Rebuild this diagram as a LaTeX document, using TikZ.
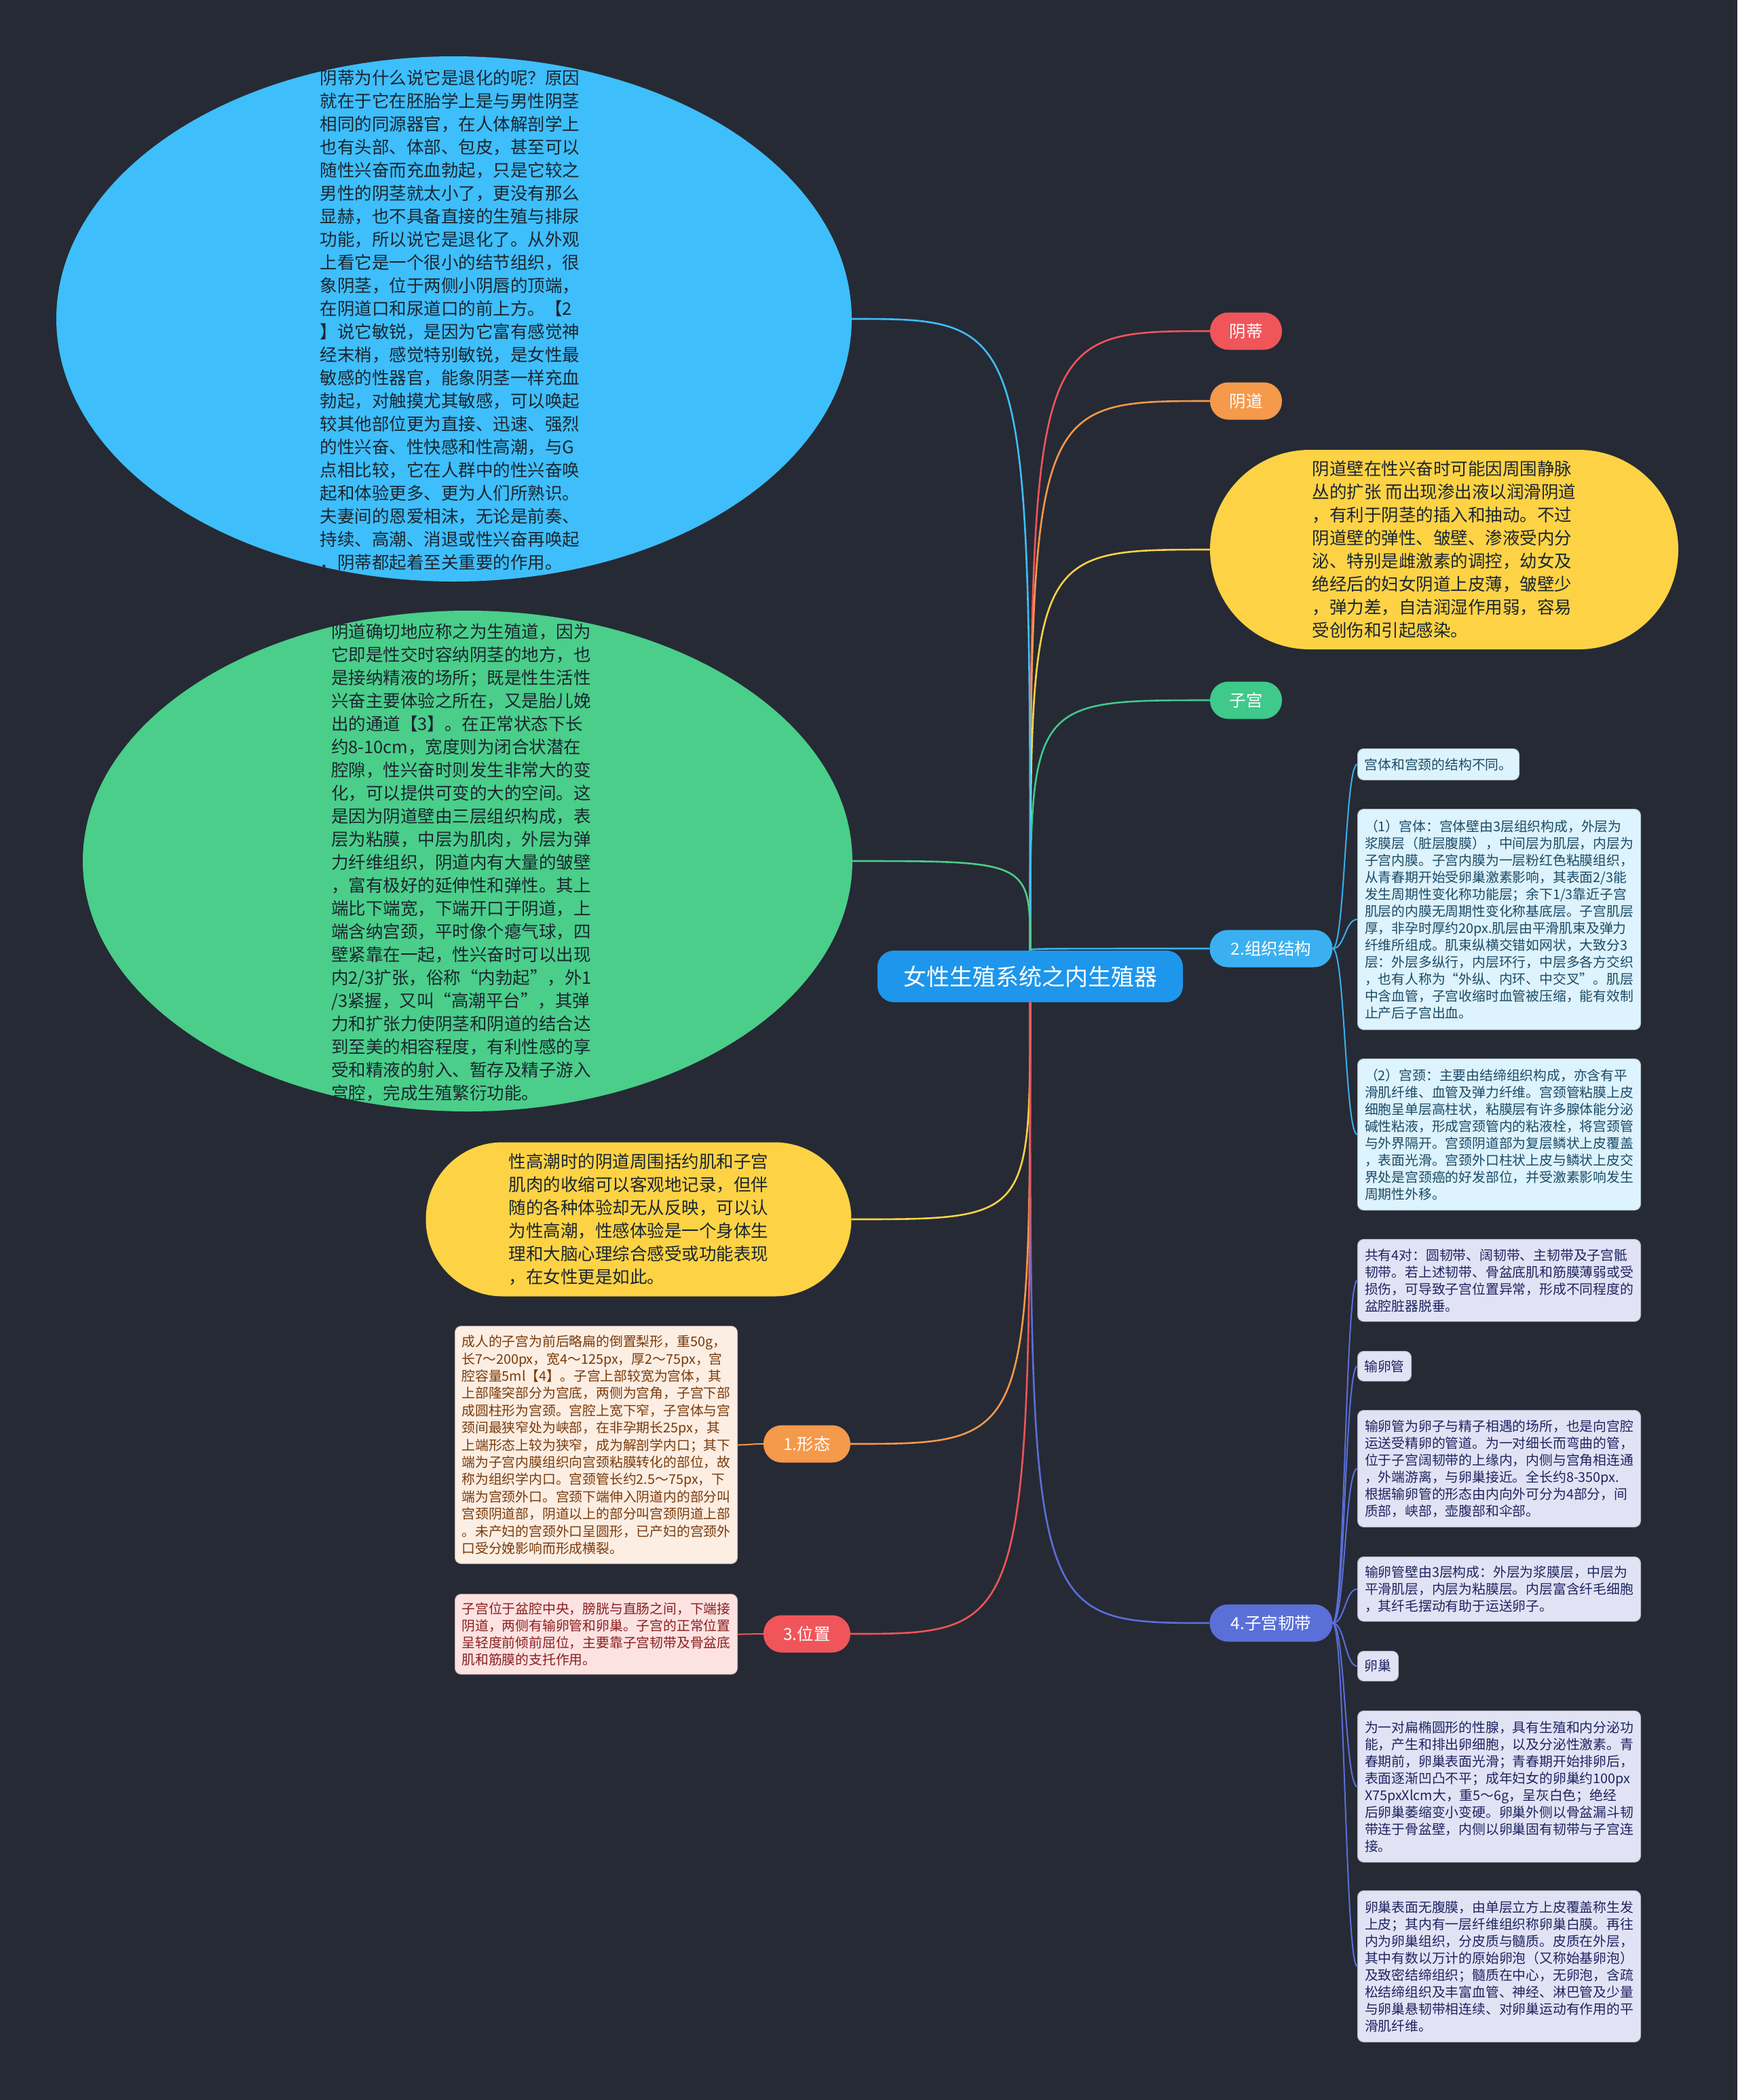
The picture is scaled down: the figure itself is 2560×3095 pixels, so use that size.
\documentclass[tikz,border=0pt]{standalone}
\usepackage{fontspec}
\setmainfont{Noto Sans CJK SC}
\usetikzlibrary{shapes.geometric}
\definecolor{bg}{HTML}{262A35}
\definecolor{cCenter}{HTML}{1E96EB}
\definecolor{cEBlue}{HTML}{3EBEFA}
\definecolor{cEGreen}{HTML}{4ACE8A}
\definecolor{cYellow}{HTML}{FDD345}
\definecolor{cRed}{HTML}{F0555A}
\definecolor{cOrange}{HTML}{F5994A}
\definecolor{cGreen}{HTML}{3FC98A}
\definecolor{cBlue}{HTML}{3BB0F0}
\definecolor{cPurple}{HTML}{5A6FD8}
\definecolor{tDark}{HTML}{1C2530}
\definecolor{fBlue}{HTML}{DDF3FD}
\definecolor{tBlue}{HTML}{1B4A66}
\definecolor{fLav}{HTML}{E1E3F5}
\definecolor{tLav}{HTML}{1E2460}
\definecolor{fPeach}{HTML}{FDEEE3}
\definecolor{tPeach}{HTML}{7A3A0A}
\definecolor{fPink}{HTML}{FDE2E2}
\definecolor{tPink}{HTML}{8A1F1F}
\newcommand{\fbig}{\fontsize{25.5pt}{34pt}\selectfont}
\newcommand{\fsmall}{\fontsize{19.8pt}{25pt}\selectfont}
\newcommand{\fsmallb}{\fontsize{19.8pt}{25.4pt}\selectfont}
\newcommand{\fpill}{\fontsize{24.5pt}{30pt}\selectfont}
\newcommand{\fcenter}{\fontsize{34pt}{40pt}\selectfont}
\begin{document}
\begin{tikzpicture}[x=1pt,y=-1pt,
  bigtxt/.style={align=left, font=\fbig, inner sep=0pt, text=tDark},
  pill/.style={rounded corners=27pt, minimum height=55pt, inner sep=0pt, font=\fpill, text=white},
  smallbox/.style={rounded corners=9pt, align=left, anchor=north west, inner sep=0pt, font=\fsmall, line width=1pt},
  conn/.style={line width=2.6pt},
  sub/.style={line width=2pt}]
\fill[bg] (0,0) rectangle (2560,3095);
\useasboundingbox (0,0) rectangle (2560,3095);

% ---------- central node
\node[fill=cCenter, rounded corners=24pt, minimum width=450pt, minimum height=76pt, inner sep=0pt, font=\fcenter, text=white] (c) at (1518,1439) {女性生殖系统之内生殖器};

% ---------- left big shapes
\node[ellipse, fill=cEBlue, minimum width=1172pt, minimum height=774pt, inner sep=0pt] (e1) at (669,470) {};
\node[bigtxt] (e1t) at (663,472) {阴蒂为什么说它是退化的呢？原因\\
就在于它在胚胎学上是与男性阴茎\\
相同的同源器官，在人体解剖学上\\
也有头部、体部、包皮，甚至可以\\
随性兴奋而充血勃起，只是它较之\\
男性的阴茎就太小了，更没有那么\\
显赫，也不具备直接的生殖与排尿\\
功能，所以说它是退化了。从外观\\
上看它是一个很小的结节组织，很\\
象阴茎，位于两侧小阴唇的顶端，\\
在阴道口和尿道口的前上方。【2\\
】说它敏锐，是因为它富有感觉神\\
经末梢，感觉特别敏锐，是女性最\\
敏感的性器官，能象阴茎一样充血\\
勃起，对触摸尤其敏感，可以唤起\\
较其他部位更为直接、迅速、强烈\\
的性兴奋、性快感和性高潮，与G\\
点相比较，它在人群中的性兴奋唤\\
起和体验更多、更为人们所熟识。\\
夫妻间的恩爱相沫，无论是前奏、\\
持续、高潮、消退或性兴奋再唤起\\
，阴蒂都起着至关重要的作用。};

\node[ellipse, fill=cEGreen, minimum width=1134pt, minimum height=738pt, inner sep=0pt] (e2) at (689,1269) {};
\node[bigtxt] (e2t) at (680,1271) {阴道确切地应称之为生殖道，因为\\
它即是性交时容纳阴茎的地方，也\\
是接纳精液的场所；既是性生活性\\
兴奋主要体验之所在，又是胎儿娩\\
出的通道【3】。在正常状态下长\\
约8-10cm，宽度则为闭合状潜在\\
腔隙，性兴奋时则发生非常大的变\\
化，可以提供可变的大的空间。这\\
是因为阴道壁由三层组织构成，表\\
层为粘膜，中层为肌肉，外层为弹\\
力纤维组织，阴道内有大量的皱壁\\
，富有极好的延伸性和弹性。其上\\
端比下端宽，下端开口于阴道，上\\
端含纳宫颈，平时像个瘪气球，四\\
壁紧靠在一起，性兴奋时可以出现\\
内2/3扩张，俗称“内勃起”，外1\\
/3紧握，又叫“高潮平台”，其弹\\
力和扩张力使阴茎和阴道的结合达\\
到至美的相容程度，有利性感的享\\
受和精液的射入、暂存及精子游入\\
宫腔，完成生殖繁衍功能。};

\node[bigtxt, fill=cYellow, rounded corners=113pt, minimum width=627pt, minimum height=227pt] (y2) at (941,1797) {性高潮时的阴道周围括约肌和子宫\\
肌肉的收缩可以客观地记录，但伴\\
随的各种体验却无从反映，可以认\\
为性高潮，性感体验是一个身体生\\
理和大脑心理综合感受或功能表现\\
，在女性更是如此。};

% ---------- right branch nodes
\node[pill, fill=cRed, minimum width=106pt] (b1) at (1836,488) {阴蒂};
\node[pill, fill=cOrange, minimum width=106pt] (b2) at (1836,591) {阴道};
\node[bigtxt, fill=cYellow, rounded corners=147pt, minimum width=690pt, minimum height=294pt] (y1) at (2128,810) {阴道壁在性兴奋时可能因周围静脉\\
丛的扩张 而出现渗出液以润滑阴道\\
，有利于阴茎的插入和抽动。不过\\
阴道壁的弹性、皱壁、渗液受内分\\
泌、特别是雌激素的调控，幼女及\\
绝经后的妇女阴道上皮薄，皱壁少\\
，弹力差，自洁润湿作用弱，容易\\
受创伤和引起感染。};
\node[pill, fill=cGreen, minimum width=106pt] (b3) at (1836,1032) {子宫};
\node[pill, fill=cBlue, minimum width=181pt] (b4) at (1873,1398) {2.组织结构};
\node[pill, fill=cPurple, minimum width=181pt] (b5) at (1873,2392) {4.子宫韧带};

% ---------- left branch nodes
\node[pill, fill=cOrange, minimum width=128pt] (b6) at (1189,2128) {1.形态};
\node[pill, fill=cRed, minimum width=128pt] (b7) at (1189,2408) {3.位置};

% ---------- children of 2.组织结构
\node[smallbox, fill=fBlue, draw=fBlue!80!black, text=tBlue, minimum width=238pt, minimum height=46pt] (k1) at (2000,1103) {宫体和宫颈的结构不同。};
\node[smallbox, fill=fBlue, draw=fBlue!80!black, text=tBlue, minimum width=417pt, minimum height=325pt] (k2) at (2000,1192) {（1）宫体：宫体壁由3层组织构成，外层为\\
浆膜层（脏层腹膜），中间层为肌层，内层为\\
子宫内膜。子宫内膜为一层粉红色粘膜组织，\\
从青春期开始受卵巢激素影响，其表面2/3能\\
发生周期性变化称功能层；余下1/3靠近子宫\\
肌层的内膜无周期性变化称基底层。子宫肌层\\
厚，非孕时厚约20px.肌层由平滑肌束及弹力\\
纤维所组成。肌束纵横交错如网状，大致分3\\
层：外层多纵行，内层环行，中层多各方交织\\
，也有人称为“外纵、内环、中交叉”。肌层\\
中含血管，子宫收缩时血管被压缩，能有效制\\
止产后子宫出血。};
\node[smallbox, fill=fBlue, draw=fBlue!80!black, text=tBlue, minimum width=417pt, minimum height=223pt] (k3) at (2000,1560) {（2）宫颈：主要由结缔组织构成，亦含有平\\
滑肌纤维、血管及弹力纤维。宫颈管粘膜上皮\\
细胞呈单层高柱状，粘膜层有许多腺体能分泌\\
碱性粘液，形成宫颈管内的粘液栓，将宫颈管\\
与外界隔开。宫颈阴道部为复层鳞状上皮覆盖\\
，表面光滑。宫颈外口柱状上皮与鳞状上皮交\\
界处是宫颈癌的好发部位，并受激素影响发生\\
周期性外移。};

% ---------- children of 4.子宫韧带
\node[smallbox, fill=fLav, draw=fLav!80!black, text=tLav, minimum width=417pt, minimum height=121pt] (m1) at (2000,1826) {共有4对：圆韧带、阔韧带、主韧带及子宫骶\\
韧带。若上述韧带、骨盆底肌和筋膜薄弱或受\\
损伤，可导致子宫位置异常，形成不同程度的\\
盆腔脏器脱垂。};
\node[smallbox, fill=fLav, draw=fLav!80!black, text=tLav, minimum width=79pt, minimum height=44pt] (m2) at (2000,1991) {输卵管};
\node[smallbox, fill=fLav, draw=fLav!80!black, text=tLav, minimum width=417pt, minimum height=172pt] (m3) at (2000,2078) {输卵管为卵子与精子相遇的场所，也是向宫腔\\
运送受精卵的管道。为一对细长而弯曲的管，\\
位于子宫阔韧带的上缘内，内侧与宫角相连通\\
，外端游离，与卵巢接近。全长约8-350px.\\
根据输卵管的形态由内向外可分为4部分，间\\
质部，峡部，壶腹部和伞部。};
\node[smallbox, fill=fLav, draw=fLav!80!black, text=tLav, minimum width=417pt, minimum height=95pt] (m4) at (2000,2294) {输卵管壁由3层构成：外层为浆膜层，中层为\\
平滑肌层，内层为粘膜层。内层富含纤毛细胞\\
，其纤毛摆动有助于运送卵子。};
\node[smallbox, fill=fLav, draw=fLav!80!black, text=tLav, minimum width=60pt, minimum height=44pt] (m5) at (2000,2433) {卵巢};
\node[smallbox, fill=fLav, draw=fLav!80!black, text=tLav, minimum width=417pt, minimum height=223pt] (m6) at (2000,2521) {为一对扁椭圆形的性腺，具有生殖和内分泌功\\
能，产生和排出卵细胞，以及分泌性激素。青\\
春期前，卵巢表面光滑；青春期开始排卵后，\\
表面逐渐凹凸不平；成年妇女的卵巢约100px\\
X75pxXlcm大，重5～6g，呈灰白色；绝经\\
后卵巢萎缩变小变硬。卵巢外侧以骨盆漏斗韧\\
带连于骨盆壁，内侧以卵巢固有韧带与子宫连\\
接。};
\node[smallbox, fill=fLav, draw=fLav!80!black, text=tLav, minimum width=417pt, minimum height=223pt] (m7) at (2000,2786) {卵巢表面无腹膜，由单层立方上皮覆盖称生发\\
上皮；其内有一层纤维组织称卵巢白膜。再往\\
内为卵巢组织，分皮质与髓质。皮质在外层，\\
其中有数以万计的原始卵泡（又称始基卵泡）\\
及致密结缔组织；髓质在中心，无卵泡，含疏\\
松结缔组织及丰富血管、神经、淋巴管及少量\\
与卵巢悬韧带相连续、对卵巢运动有作用的平\\
滑肌纤维。};

% ---------- children of 1.形态 and 3.位置
\node[smallbox, font=\fsmallb, fill=fPeach, draw=fPeach!80!black, text=tPeach, minimum width=416pt, minimum height=350pt] (l1) at (670,1954) {成人的子宫为前后略扁的倒置梨形，重50g，\\
长7～200px，宽4～125px，厚2～75px，宫\\
腔容量5ml【4】。子宫上部较宽为宫体，其\\
上部隆突部分为宫底，两侧为宫角，子宫下部\\
成圆柱形为宫颈。宫腔上宽下窄，子宫体与宫\\
颈间最狭窄处为峡部，在非孕期长25px，其\\
上端形态上较为狭窄，成为解剖学内口；其下\\
端为子宫内膜组织向宫颈粘膜转化的部位，故\\
称为组织学内口。宫颈管长约2.5～75px，下\\
端为宫颈外口。宫颈下端伸入阴道内的部分叫\\
宫颈阴道部，阴道以上的部分叫宫颈阴道上部\\
。未产妇的宫颈外口呈圆形，已产妇的宫颈外\\
口受分娩影响而形成横裂。};
\node[smallbox, fill=fPink, draw=fPink!80!black, text=tPink, minimum width=416pt, minimum height=118pt] (l2) at (670,2349) {子宫位于盆腔中央，膀胱与直肠之间，下端接\\
阴道，两侧有输卵管和卵巢。子宫的正常位置\\
呈轻度前倾前屈位，主要靠子宫韧带及骨盆底\\
肌和筋膜的支托作用。};

% ---------- connectors from central node
\draw[conn, cRed] (c.north) .. controls (c.north |- b1.west) .. (b1.west);
\draw[conn, cOrange] (c.north) .. controls (c.north |- b2.west) .. (b2.west);
\draw[conn, cYellow] (c.north) .. controls (c.north |- y1.west) .. (y1.west);
\draw[conn, cGreen] (c.north) .. controls (c.north |- b3.west) .. (b3.west);
\draw[conn, cBlue] (c.north) .. controls (c.north |- b4.west) .. (b4.west);
\draw[conn, cPurple] (c.south) .. controls (c.south |- b5.west) .. (b5.west);
\draw[conn, cEBlue] (c.north) .. controls (c.north |- e1.east) .. (e1.east);
\draw[conn, cEGreen] (c.north) .. controls (c.north |- e2.east) .. (e2.east);
\draw[conn, cYellow] (c.south) .. controls (c.south |- y2.east) .. (y2.east);
\draw[conn, cOrange] (c.south) .. controls (c.south |- b6.east) .. (b6.east);
\draw[conn, cRed] (c.south) .. controls (c.south |- b7.east) .. (b7.east);

% ---------- sub connectors
\foreach \k in {k1,k2,k3}
  \draw[sub, cBlue] (b4.east) .. controls +(18,0) and +(-18,0) .. (\k.west);
\foreach \k in {m1,m2,m3,m4,m5,m6,m7}
  \draw[sub, cPurple] (b5.east) .. controls +(18,0) and +(-18,0) .. (\k.west);
\draw[sub, cOrange] (b6.west) .. controls +(-20,0) and +(20,0) .. (l1.east);
\draw[sub, cRed] (b7.west) .. controls +(-20,0) and +(20,0) .. (l2.east);
\end{tikzpicture}
\end{document}
